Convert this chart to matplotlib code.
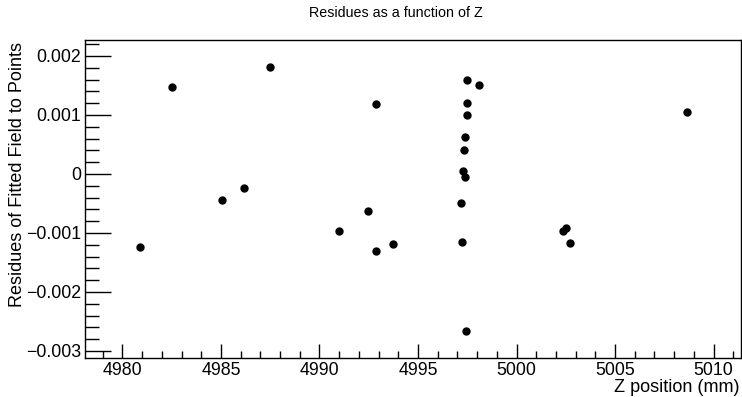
import matplotlib
matplotlib.use("Agg")
import matplotlib.pyplot as plt
from matplotlib.ticker import MultipleLocator, FixedLocator

plt.rcParams['font.family'] = ['Liberation Sans', 'DejaVu Sans']

z_pos = [4980.9, 4982.54, 4985.05, 4986.15, 4987.51, 4990.98, 4992.48, 4992.85, 4992.85,
         4993.73, 4997.47, 4998.07, 4997.46, 4997.51, 4997.36, 4997.34, 4997.29, 4997.36,
         4997.18, 4997.25, 4997.42, 5002.34, 5002.51, 5002.71, 5008.64]
residues = [-0.001237, 0.00148, -0.00044, -0.000243, 0.00182, -0.00096, -0.00062, 0.001186, -0.0013,
            -0.00119, 0.00159, 0.0015, 0.0012, 0.000995, 0.00062, 0.0004, 0.000045, -0.000045,
            -0.000486, -0.00116, -0.00266, -0.000966, -0.00092, -0.001175, 0.001056]

x_ticks = [4980, 4985, 4990, 4995, 5000, 5005, 5010]
y_ticks = [-0.003, -0.002, -0.001, 0, 0.001, 0.002]
y_labels = ['\u22120.003', '\u22120.002', '\u22120.001', '0', '0.001', '0.002']

W, H = 742, 397
fig = plt.figure(figsize=(W/100, H/100), dpi=100)
ax = fig.add_axes([85/W, 1 - 358/H, (741-85)/W, (358-40)/H])

ax.plot(z_pos, residues, 'o', color='black', markersize=5, linestyle='none')

ax.set_xlim(4978.1, 5011.39)
ax.set_ylim(-0.00312, 0.00227)

ax.xaxis.set_major_locator(FixedLocator(x_ticks))
ax.xaxis.set_minor_locator(MultipleLocator(1))
ax.yaxis.set_major_locator(FixedLocator(y_ticks))
ax.yaxis.set_minor_locator(MultipleLocator(0.0002))
ax.set_yticklabels(y_labels)
ax.set_xticklabels([str(t) for t in x_ticks])

ax.tick_params(axis='x', which='major', direction='in', length=10, width=1, labelsize=12.8, pad=3, top=False)
ax.tick_params(axis='x', which='minor', direction='in', length=5, width=1, top=False)
ax.tick_params(axis='y', which='major', direction='in', length=19, width=1, labelsize=12.8, pad=3, right=False)
ax.tick_params(axis='y', which='minor', direction='in', length=10, width=1, right=False)

for s in ax.spines.values():
    s.set_linewidth(1)
    s.set_color('black')

fig.text(396/W, 1 - 13/H, 'Residues as a function of Z', ha='center', va='center', fontsize=10.3)
fig.text(740/W, 1 - 388/H, 'Z position (mm)', ha='right', va='center', fontsize=13)
fig.text(18/W, 1 - 42/H, 'Residues of Fitted Field to Points', ha='center', va='top', rotation=90, fontsize=13)

fig.savefig('out.png', dpi=100)
